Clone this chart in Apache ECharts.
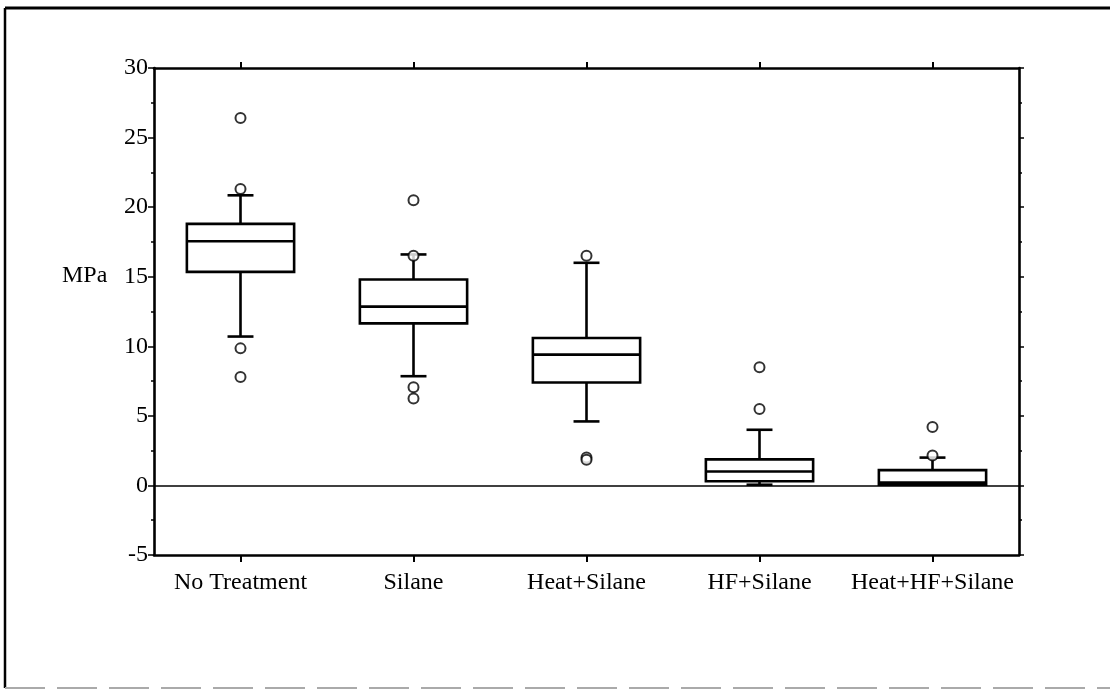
<!DOCTYPE html>
<html>
<head>
<meta charset="utf-8">
<script src="https://cdn.jsdelivr.net/npm/echarts@6/dist/echarts.min.js"></script>
<style>
html,body{margin:0;padding:0;background:#fff;}
#chart{width:1110px;height:690px;}
</style>
</head>
<body>
<div id="chart"></div>
<script>
var categories = ['No Treatment', 'Silane', 'Heat+Silane', 'HF+Silane', 'Heat+HF+Silane'];
var whiskerLow = [10.7, 7.85, 4.6, 0.05, 0.05];
var q1 = [15.35, 11.65, 7.4, 0.3, 0.05];
var median = [17.55, 12.85, 9.4, 1.0, 0.2];
var q3 = [18.8, 14.8, 10.6, 1.87, 1.1];
var whiskerHigh = [20.85, 16.6, 16.0, 4.0, 2.0];
var outliers = [
  [0, 26.4], [0, 21.3], [0, 9.85], [0, 7.8],
  [1, 20.5], [1, 16.5], [1, 7.05], [1, 6.25],
  [2, 16.5], [2, 2.0], [2, 1.85],
  [3, 8.5], [3, 5.5],
  [4, 4.2], [4, 2.15]
];
var yTicks = { min: -5, max: 30, interval: 5 };
var yName = 'MPa';

var boxData = categories.map(function (c, i) {
  return [i, whiskerLow[i], q1[i], median[i], q3[i], whiskerHigh[i]];
});

var FONT = '"Liberation Serif", "DejaVu Serif", serif';

function renderBox(params, api) {
  var idx = api.value(0);
  var pLow = api.coord([idx, api.value(1)]);
  var pQ1 = api.coord([idx, api.value(2)]);
  var pMed = api.coord([idx, api.value(3)]);
  var pQ3 = api.coord([idx, api.value(4)]);
  var pHigh = api.coord([idx, api.value(5)]);
  var band = api.size([1, 0])[0];
  var bw = band * 0.62;
  var cw = band * 0.15;
  var x = pMed[0];
  var style = { stroke: '#000', lineWidth: 2.6, fill: null };
  var children = [
    { type: 'line', shape: { x1: x, y1: pQ3[1], x2: x, y2: pHigh[1] }, style: style },
    { type: 'line', shape: { x1: x - cw / 2, y1: pHigh[1], x2: x + cw / 2, y2: pHigh[1] }, style: style },
    { type: 'line', shape: { x1: x, y1: pQ1[1], x2: x, y2: pLow[1] }, style: style },
    { type: 'line', shape: { x1: x - cw / 2, y1: pLow[1], x2: x + cw / 2, y2: pLow[1] }, style: style },
    { type: 'rect', shape: { x: x - bw / 2, y: pQ3[1], width: bw, height: pQ1[1] - pQ3[1] }, style: { stroke: '#000', lineWidth: 2.6, fill: '#fff' } },
    { type: 'line', shape: { x1: x - bw / 2, y1: pMed[1], x2: x + bw / 2, y2: pMed[1] }, style: style }
  ];
  return { type: 'group', children: children };
}

var chart = echarts.init(document.getElementById('chart'), null, { renderer: 'canvas' });
var axisLineStyle = { color: '#000', width: 2.6 };
chart.setOption({
  backgroundColor: '#fff',
  animation: false,
  textStyle: { fontFamily: FONT },
  grid: { left: 154, right: 91, top: 68, bottom: 135, containLabel: false },
  xAxis: [
    {
      type: 'category', data: categories, position: 'bottom',
      axisLine: { onZero: false, lineStyle: axisLineStyle },
      axisTick: { show: true, interval: 0, alignWithLabel: true, length: 7, lineStyle: { color: '#000', width: 2 } },
      axisLabel: { show: true, interval: 0, color: '#000', fontSize: 24, fontFamily: FONT, margin: 16 },
      splitLine: { show: false }
    },
    {
      type: 'category', data: categories, position: 'top',
      axisLine: { onZero: false, lineStyle: axisLineStyle },
      axisTick: { show: true, interval: 0, alignWithLabel: true, length: 6, lineStyle: { color: '#000', width: 2 } },
      axisLabel: { show: false },
      splitLine: { show: false }
    }
  ],
  yAxis: [
    {
      type: 'value', min: yTicks.min, max: yTicks.max, interval: yTicks.interval, position: 'left',
      axisLine: { show: true, onZero: false, lineStyle: axisLineStyle },
      axisTick: { show: true, length: 6, lineStyle: { color: '#000', width: 1.5 } },
      minorTick: { show: true, splitNumber: 2, length: 3, lineStyle: { color: '#000', width: 1.5 } },
      axisLabel: { color: '#000', fontSize: 24, fontFamily: FONT, margin: 6 },
      splitLine: { show: false }
    },
    {
      type: 'value', min: yTicks.min, max: yTicks.max, interval: yTicks.interval, position: 'right',
      axisLine: { show: true, onZero: false, lineStyle: axisLineStyle },
      axisTick: { show: true, length: 5, lineStyle: { color: '#000', width: 1.5 } },
      minorTick: { show: true, splitNumber: 2, length: 3, lineStyle: { color: '#000', width: 1.5 } },
      axisLabel: { show: false },
      splitLine: { show: false }
    }
  ],
  graphic: [
    { type: 'text', left: 62, top: 264, style: { text: yName, fontSize: 24, fontFamily: FONT, fill: '#000' } },
    { type: 'line', shape: { x1: 5, y1: 8, x2: 1110, y2: 8 }, style: { stroke: '#000', lineWidth: 3 } },
    { type: 'line', shape: { x1: 5, y1: 8, x2: 5, y2: 688 }, style: { stroke: '#000', lineWidth: 2.5 } },
    { type: 'line', shape: { x1: 5, y1: 688, x2: 1110, y2: 688 }, style: { stroke: '#aaa', lineWidth: 2, lineDash: [40, 12] } }
  ],
  series: [
    {
      type: 'custom', name: 'box', xAxisIndex: 0, yAxisIndex: 0,
      renderItem: renderBox, data: boxData, z: 3,
      encode: { x: 0, y: [1, 2, 3, 4, 5] },
      markLine: {
        silent: true, symbol: 'none', label: { show: false },
        lineStyle: { color: '#000', width: 1.5, type: 'solid' },
        data: [{ yAxis: 0 }], z: 1
      }
    },
    {
      type: 'scatter', name: 'outliers', xAxisIndex: 0, yAxisIndex: 0,
      data: outliers, symbol: 'emptyCircle', symbolSize: 10,
      itemStyle: { color: '#000', borderColor: '#000', borderWidth: 2.8 }, z: 4
    }
  ]
});
</script>
</body>
</html>
